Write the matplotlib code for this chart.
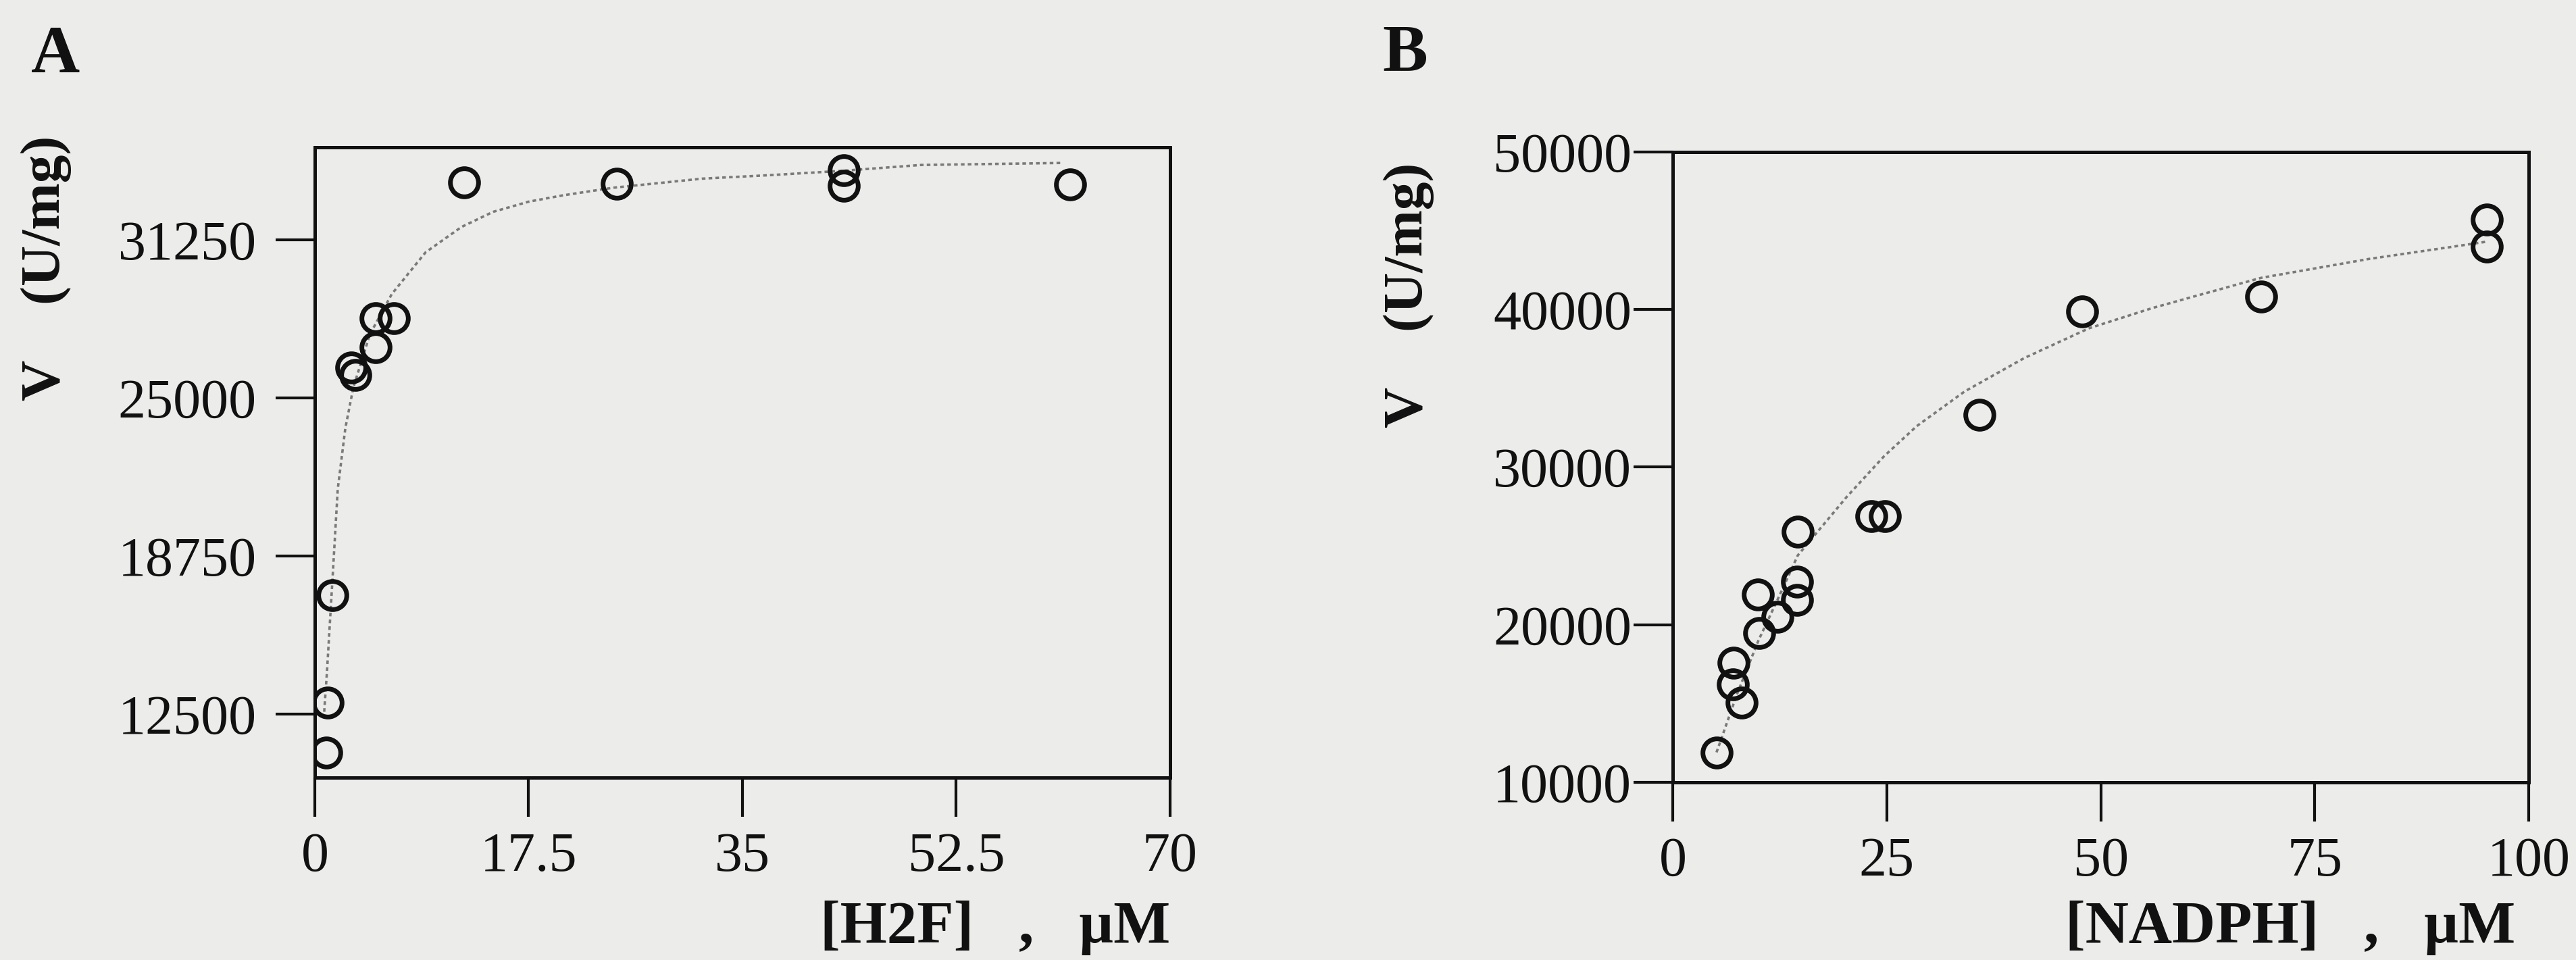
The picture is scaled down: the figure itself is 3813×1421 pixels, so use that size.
import matplotlib
matplotlib.use("Agg")
import matplotlib.pyplot as plt

# panel A: V vs [H2F]
h2f_x = [0.94, 1.05, 1.42, 3.0, 3.3, 5.0, 5.0, 6.5, 12.2, 24.7, 43.3, 43.3, 61.8]
h2f_v = [11000, 12950, 17200, 26200, 25900, 27000, 28150, 28150, 33500, 33450, 33990, 33380, 33420]
# fitted curve
h2f_fit_x = [0.77, 1.0, 1.42, 1.88, 2.5, 3.15, 4.5, 6.3, 9.07, 12.0, 14.6, 17.5, 20.3, 24.4, 31.7, 37.3, 43.2, 49.6, 61.1]
h2f_fit_v = [12600, 14200, 17600, 21400, 23800, 25400, 27500, 29100, 30750, 31750, 32350, 32750, 33000, 33300, 33660, 33800, 33970, 34200, 34280]
h2f_xticks = [0, 17.5, 35, 52.5, 70]
h2f_xlabels = ["0", "17.5", "35", "52.5", "70"]
h2f_yticks = [12500, 18750, 25000, 31250]

# panel B: V vs [NADPH]
nadph_x = [5.1, 7.1, 7.0, 8.0, 10.1, 9.95, 12.2, 14.5, 14.5, 14.6, 23.2, 24.8, 35.8, 47.8, 68.7, 95.1, 95.1]
nadph_v = [11900, 17590, 16230, 15070, 19480, 21920, 20480, 22730, 21560, 25880, 26880, 26880, 33330, 39880, 40800, 45700, 43990]
nadph_fit_x = [5.1, 7.5, 10, 12.5, 14.6, 20.3, 24.7, 28.5, 34.1, 41.0, 48.6, 56.1, 68.7, 81.3, 91.4, 95.1]
nadph_fit_v = [11900, 15600, 19000, 21900, 24400, 28100, 30700, 32600, 34800, 36900, 38800, 40100, 42000, 43200, 44000, 44300]
nadph_xticks = [0, 25, 50, 75, 100]
nadph_yticks = [10000, 20000, 30000, 40000, 50000]

plt.rcParams['font.family'] = ['Liberation Serif', 'DejaVu Serif']
bg = '#ececea'

fig = plt.figure(figsize=(38.13, 14.21), dpi=100, facecolor=bg)
axA = fig.add_axes([0.1222, 0.19, 0.332, 0.6566])
axB = fig.add_axes([0.6494, 0.1851, 0.3323, 0.6568])


def style(ax, ypad):
    ax.set_facecolor(bg)
    for s in ax.spines.values():
        s.set_linewidth(3.6)
        s.set_color('#111111')
    ax.tick_params(direction='out', length=42, width=3, colors='#111111',
                   labelsize=59, top=False, right=False)
    ax.tick_params(axis='x', pad=16)
    ax.tick_params(axis='y', pad=ypad)


axA.plot(h2f_fit_x, h2f_fit_v, color='#7a7a7a', lw=2.6, ls=(0, (1.5, 1.3)))
axA.plot(h2f_x, h2f_v, 'o', ms=30, mfc='none', mec='#111111', mew=5)
axA.set_xlim(0, 70)
axA.set_ylim(10000, 34900)
axA.set_xticks(h2f_xticks)
axA.set_xticklabels(h2f_xlabels)
axA.set_yticks(h2f_yticks)
style(axA, 20)

axB.plot(nadph_fit_x, nadph_fit_v, color='#7a7a7a', lw=2.6, ls=(0, (1.5, 1.3)))
axB.plot(nadph_x, nadph_v, 'o', ms=30, mfc='none', mec='#111111', mew=5)
axB.set_xlim(0, 100)
axB.set_ylim(10000, 50000)
axB.set_xticks(nadph_xticks)
axB.set_yticks(nadph_yticks)
style(axB, 2)

lab = dict(fontweight='bold', color='#111111')
fig.text(0.012, 0.9247, 'A', fontsize=72, va='baseline', **lab)
fig.text(0.5366, 0.9268, 'B', fontsize=72, va='baseline', **lab)
fig.text(0.0178, 0.7206, 'V    (U/mg)', fontsize=60, rotation=90, ha='center', va='center', **lab)
fig.text(0.5468, 0.6924, 'V    (U/mg)', fontsize=60, rotation=90, ha='center', va='center', **lab)
fig.text(0.4542, 0.0183, '[H2F]   ,   µM', fontsize=64, ha='right', va='baseline', **lab)
fig.text(0.9764, 0.0183, '[NADPH]   ,   µM', fontsize=64, ha='right', va='baseline', **lab)

fig.savefig('out.png', dpi=100, facecolor=bg)
